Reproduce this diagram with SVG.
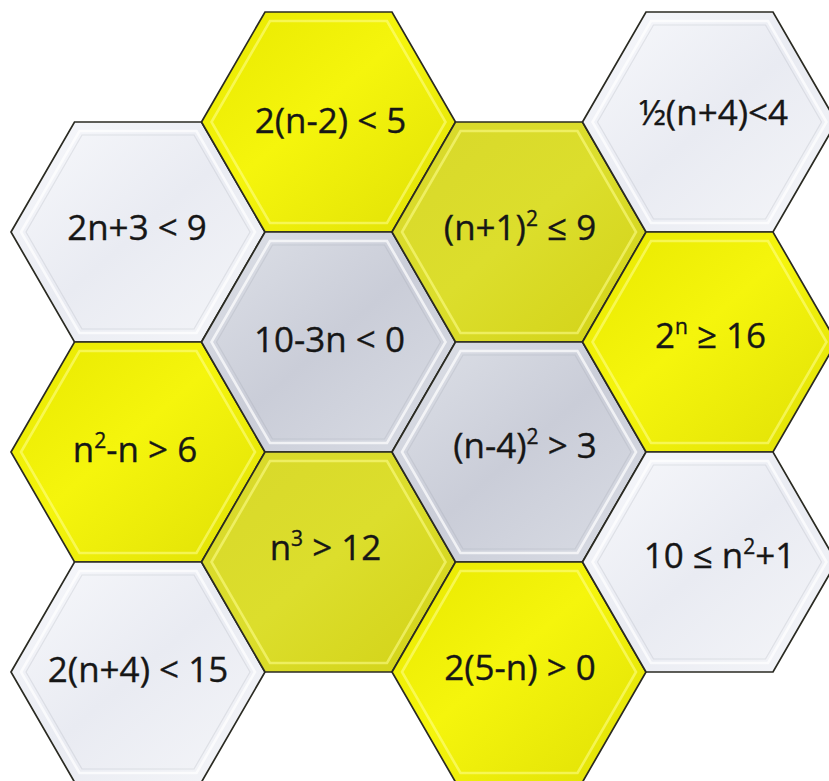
<svg xmlns="http://www.w3.org/2000/svg" xmlns:xlink="http://www.w3.org/1999/xlink" width="829" height="781" viewBox="0 0 829 781">
<style>
.edge{stroke:#2a2a22;stroke-width:1.7;stroke-linejoin:miter}
.rim{fill:none;stroke:#ffffff;stroke-opacity:0.7;stroke-width:2.6}
.rimY{fill:none;stroke:#ffff90;stroke-opacity:0.55;stroke-width:2.6}
.band{fill:none;stroke:#8a8f9c;stroke-opacity:0.18;stroke-width:1.2}
.yb{fill:url(#gYB)}
.yo{fill:url(#gYO)}
.sw{fill:url(#gSW)}
.sg{fill:url(#gSG)}
text{font-family:"Open Sans","Liberation Sans",sans-serif;font-size:35px;fill:#161616;text-anchor:middle;stroke:#161616;stroke-width:0.35}
.sup{font-size:21px}
</style>
<defs>
<polygon id="hex" points="-127,0 -63.5,-110 63.5,-110 127,0 63.5,110 -63.5,110"/>
<polygon id="inner" points="-117,0 -58.5,-101 58.5,-101 117,0 58.5,101 -58.5,101"/>
<polygon id="inner2" points="-112,0 -56,-97 56,-97 112,0 56,97 -56,97"/>
<linearGradient id="gYB" x1="0" y1="0" x2="1" y2="1">
<stop offset="0" stop-color="#e8e800"/>
<stop offset="0.45" stop-color="#f5f50c"/>
<stop offset="1" stop-color="#e0e006"/>
</linearGradient>
<linearGradient id="gYO" x1="0" y1="0" x2="1" y2="1">
<stop offset="0" stop-color="#d8d82a"/>
<stop offset="0.5" stop-color="#dcde2c"/>
<stop offset="1" stop-color="#d2d216"/>
</linearGradient>
<linearGradient id="gSW" x1="0" y1="0" x2="1" y2="1">
<stop offset="0" stop-color="#f8f9fc"/>
<stop offset="0.5" stop-color="#e9ebf2"/>
<stop offset="1" stop-color="#f5f6f9"/>
</linearGradient>
<linearGradient id="gSG" x1="0" y1="0" x2="1" y2="1">
<stop offset="0" stop-color="#dee1e8"/>
<stop offset="0.5" stop-color="#cacdd8"/>
<stop offset="1" stop-color="#dadde5"/>
</linearGradient>
</defs>
<rect width="829" height="781" fill="#ffffff"/>

<g id="hex-2n3">
<g transform="translate(138,232)"><use href="#hex" class="sw edge"/><use href="#inner" class="rim"/><use href="#inner2" class="band"/>
<text x="-1" y="8">2n+3 &lt; 9</text></g>
</g>
<g id="hex-n2n">
<g transform="translate(138,452)"><use href="#hex" class="yb edge"/><use href="#inner" class="rimY"/>
<text x="-3" y="10">n<tspan class="sup" dy="-14">2</tspan><tspan dy="14">-n &gt; 6</tspan></text></g>
</g>
<g id="hex-2n4">
<g transform="translate(138,672)"><use href="#hex" class="sw edge"/><use href="#inner" class="rim"/><use href="#inner2" class="band"/>
<text x="0" y="10">2(n+4) &lt; 15</text></g>
</g>
<g id="hex-2n2">
<g transform="translate(328.5,122)"><use href="#hex" class="yb edge"/><use href="#inner" class="rimY"/>
<text x="2" y="11">2(n-2) &lt; 5</text></g>
</g>
<g id="hex-103n">
<g transform="translate(328.5,342)"><use href="#hex" class="sg edge"/><use href="#inner" class="rim"/><use href="#inner2" class="band"/>
<text x="1" y="10">10-3n &lt; 0</text></g>
</g>
<g id="hex-n3">
<g transform="translate(328.5,562)"><use href="#hex" class="yo edge"/><use href="#inner" class="rimY"/>
<text x="-3" y="-2">n<tspan class="sup" dy="-14">3</tspan><tspan dy="14"> &gt; 12</tspan></text></g>
</g>
<g id="hex-n1">
<g transform="translate(519,232)"><use href="#hex" class="yo edge"/><use href="#inner" class="rimY"/>
<text x="1" y="8">(n+1)<tspan class="sup" dy="-14">2</tspan><tspan dy="14"> ≤ 9</tspan></text></g>
</g>
<g id="hex-n4">
<g transform="translate(519,452)"><use href="#hex" class="sg edge"/><use href="#inner" class="rim"/><use href="#inner2" class="band"/>
<text x="6" y="6">(n-4)<tspan class="sup" dy="-14">2</tspan><tspan dy="14"> &gt; 3</tspan></text></g>
</g>
<g id="hex-25n">
<g transform="translate(519,672)"><use href="#hex" class="yb edge"/><use href="#inner" class="rimY"/>
<text x="1" y="8">2(5-n) &gt; 0</text></g>
</g>
<g id="hex-half">
<g transform="translate(709.5,122)"><use href="#hex" class="sw edge"/><use href="#inner" class="rim"/><use href="#inner2" class="band"/>
<text x="4" y="3">½(n+4)&lt;4</text></g>
</g>
<g id="hex-2n16">
<g transform="translate(709.5,342)"><use href="#hex" class="yb edge"/><use href="#inner" class="rimY"/>
<text x="1" y="6">2<tspan class="sup" dy="-14">n</tspan><tspan dy="14"> ≥ 16</tspan></text></g>
</g>
<g id="hex-10n2">
<g transform="translate(709.5,562)"><use href="#hex" class="sw edge"/><use href="#inner" class="rim"/><use href="#inner2" class="band"/>
<text x="10" y="6">10 ≤ n<tspan class="sup" dy="-14">2</tspan><tspan dy="14">+1</tspan></text></g>
</g>
<g id="connectors"></g>
</svg>
